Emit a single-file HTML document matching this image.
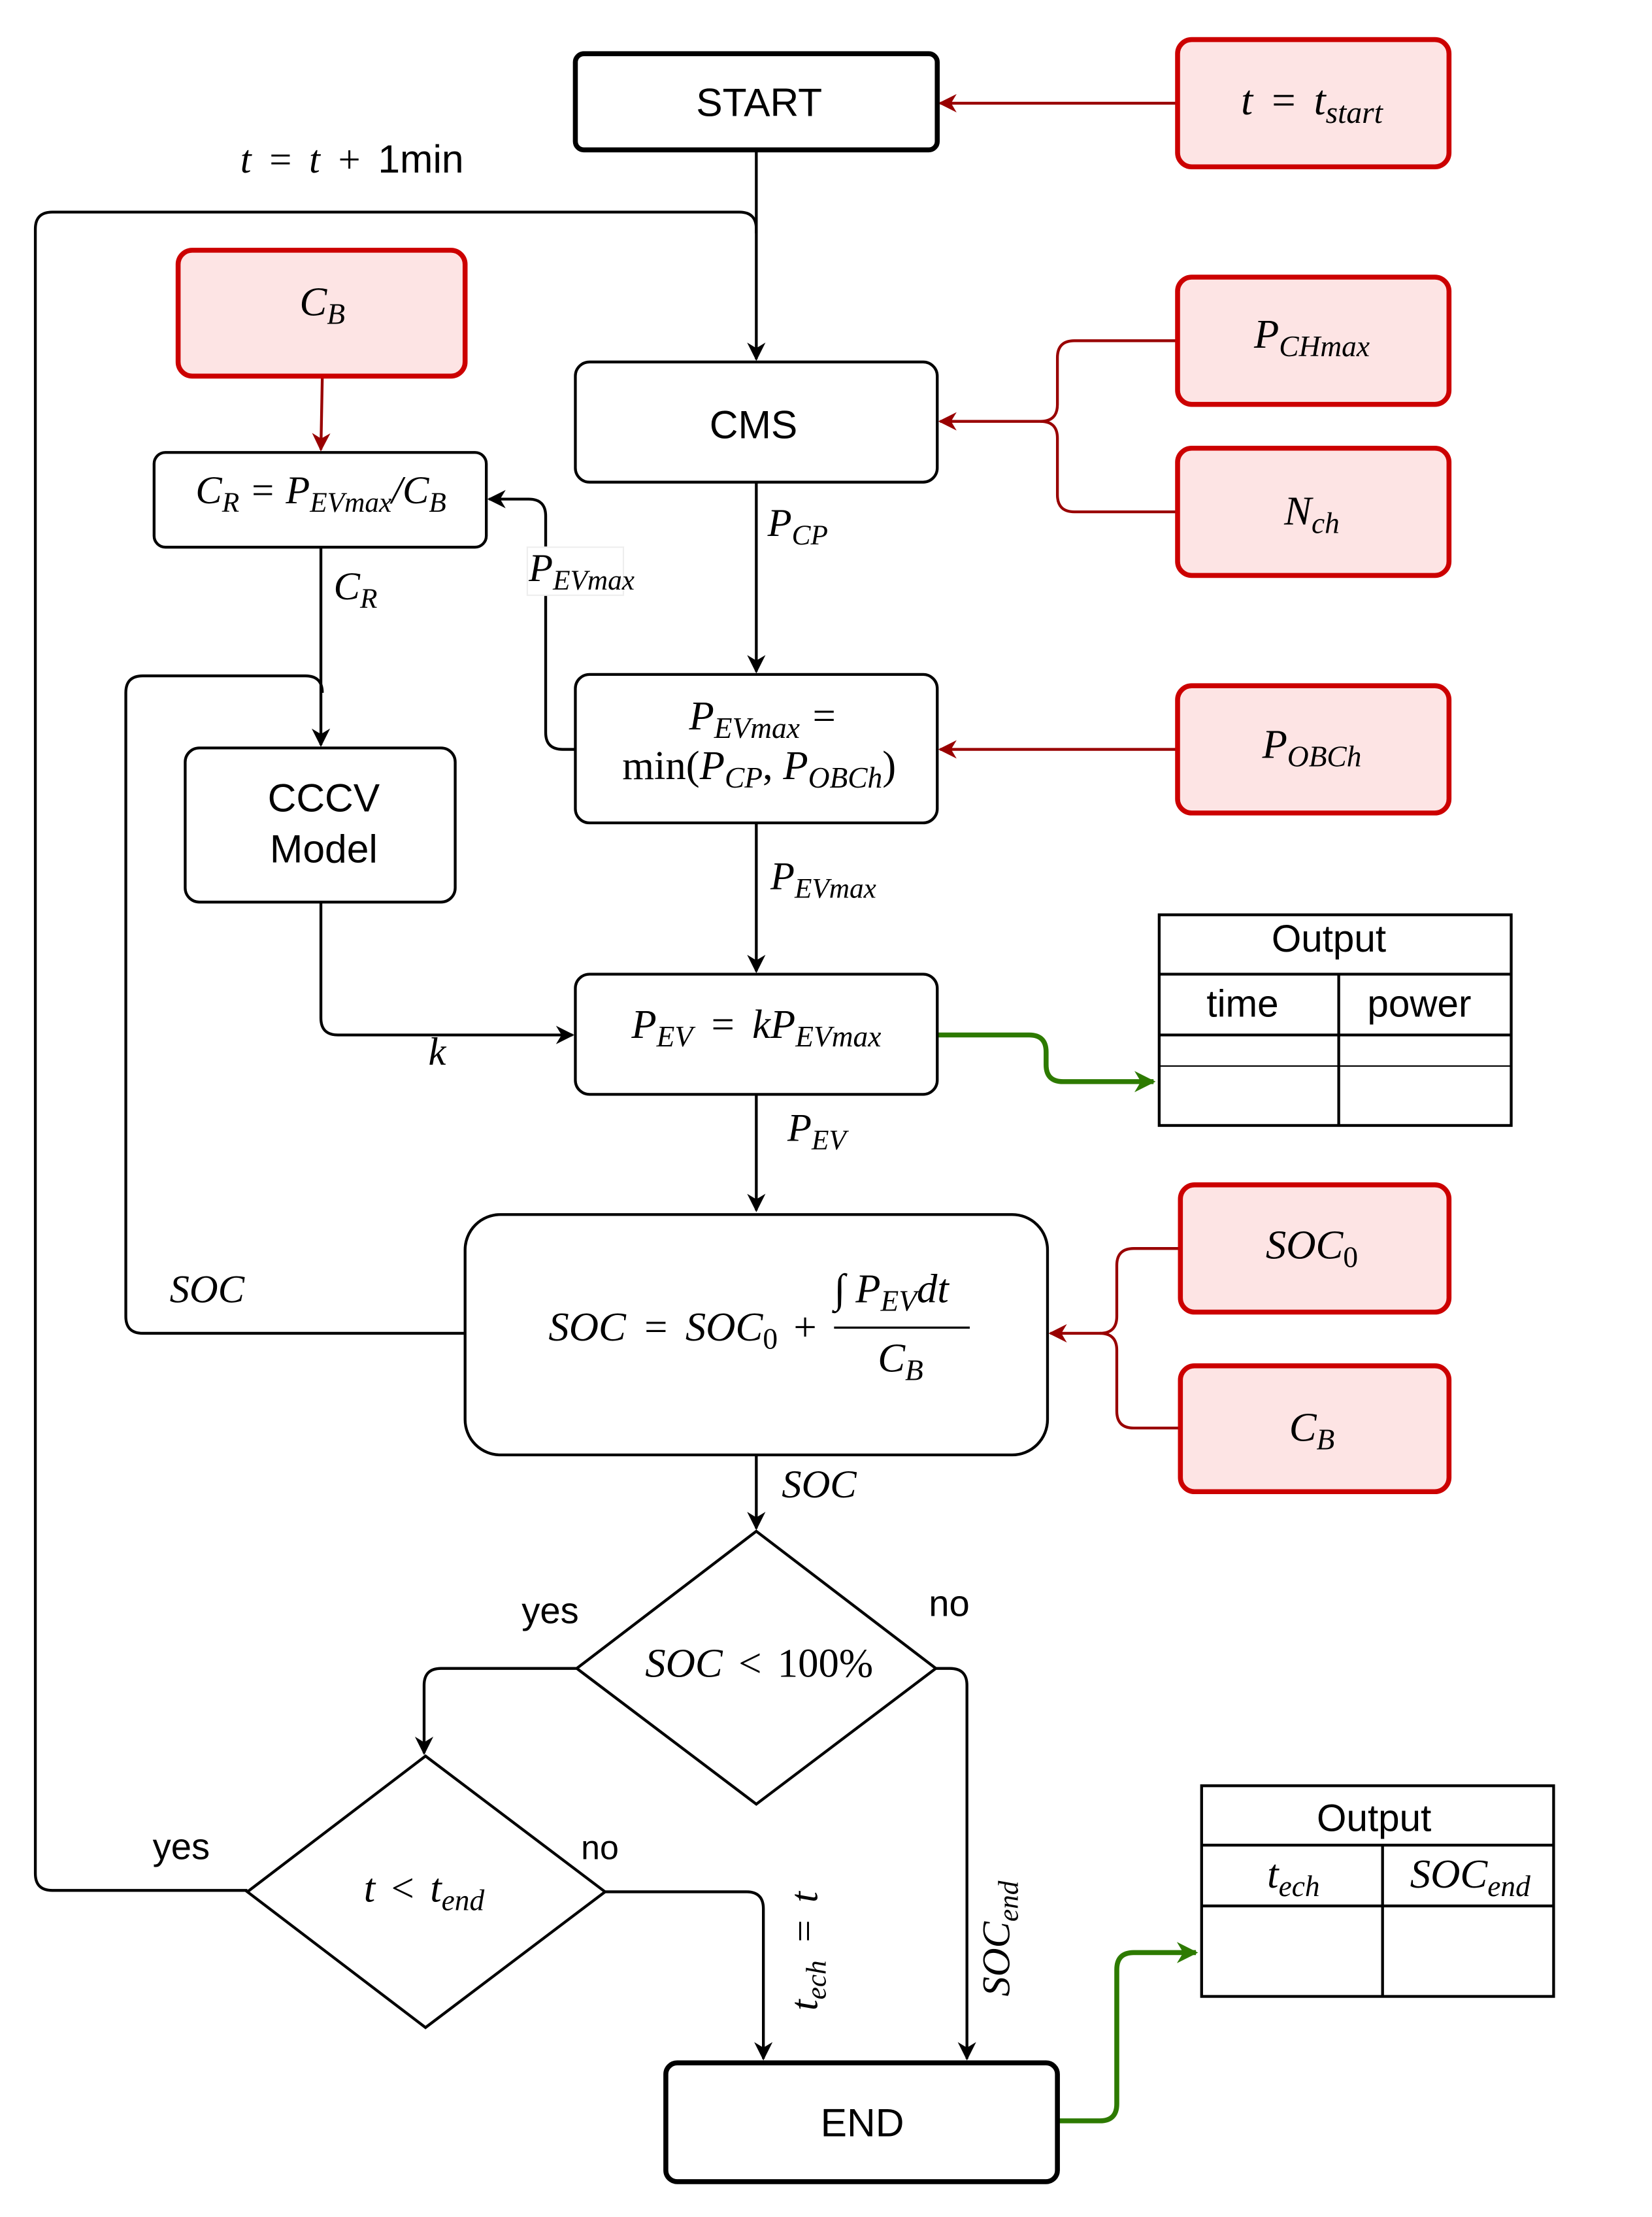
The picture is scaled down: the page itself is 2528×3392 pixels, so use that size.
<!DOCTYPE html>
<html><head><meta charset="utf-8"><style>
html,body{margin:0;padding:0;background:#fff;}
svg{display:block;}
text{font-family:"Liberation Sans",sans-serif;}
.m{font-family:"Liberation Serif",serif;font-style:italic;}
.r{font-family:"Liberation Serif",serif;font-style:normal;}
.w{word-spacing:4px;}
</style></head><body>
<svg width="2528" height="3392" viewBox="0 0 1168.6 1568" preserveAspectRatio="none" xmlns="http://www.w3.org/2000/svg">
<defs>
<marker id="ak" viewBox="0 0 10 10" refX="9" refY="5" markerWidth="13" markerHeight="13" orient="auto" markerUnits="userSpaceOnUse"><path d="M0,0 L10,5 L0,10 L3,5z" fill="#000"/></marker>
<marker id="ar" viewBox="0 0 10 10" refX="9" refY="5" markerWidth="13" markerHeight="13" orient="auto" markerUnits="userSpaceOnUse"><path d="M0,0 L10,5 L0,10 L3,5z" fill="#990000"/></marker>
<marker id="ag" viewBox="0 0 10 10" refX="9" refY="5" markerWidth="15" markerHeight="15" orient="auto" markerUnits="userSpaceOnUse"><path d="M0,0 L10,5 L0,10 L3,5z" fill="#2d7a00"/></marker>
</defs>
<style>
.k{stroke:#000;stroke-width:2;fill:none;}
.kr{stroke:#990000;stroke-width:2;fill:none;}
.g{stroke:#2d7a00;stroke-width:3.5;fill:none;}
.box{fill:#fff;stroke:#000;stroke-width:2;}
.rb{fill:#fde4e4;stroke:#cc0000;stroke-width:3.5;}
</style>

<path class="k" d="M535,106 V254" marker-end="url(#ak)"/>
<path class="k" d="M535,165 V162 Q535,150 523,150 H37 Q25,150 25,162 V1325 Q25,1337 37,1337 H175"/>
<path class="kr" d="M833,73 H665" marker-end="url(#ar)"/>
<path class="kr" d="M228,266 L227,318" marker-end="url(#ar)"/>
<path class="kr" d="M833,241 H760 Q748,241 748,253 V286 Q748,298 736,298 H665" marker-end="url(#ar)"/>
<path class="kr" d="M833,362 H760 Q748,362 748,350 V310 Q748,298 736,298"/>
<path class="k" d="M535,341 V475" marker-end="url(#ak)"/>
<path class="kr" d="M833,530 H665" marker-end="url(#ar)"/>
<path class="k" d="M407,530 H398 Q386,530 386,518 V365 Q386,353 374,353 H346" marker-end="url(#ak)"/>
<path class="k" d="M227,387 V527" marker-end="url(#ak)"/>
<path class="k" d="M329,943 H101 Q89,943 89,931 V490 Q89,478 101,478 H216 Q228,478 228,490"/>
<path class="k" d="M535,582 V687" marker-end="url(#ak)"/>
<path class="k" d="M227,638 V720 Q227,732 239,732 H405" marker-end="url(#ak)"/>
<path class="g" d="M663,732 H728 Q740,732 740,744 V753 Q740,765 752,765 H816" marker-end="url(#ag)"/>
<path class="k" d="M535,774 V856" marker-end="url(#ak)"/>
<path class="kr" d="M835,883 H802 Q790,883 790,895 V931 Q790,943 778,943 H743" marker-end="url(#ar)"/>
<path class="kr" d="M835,1010 H802 Q790,1010 790,998 V955 Q790,943 778,943"/>
<path class="k" d="M535,1029 V1081" marker-end="url(#ak)"/>
<path class="k" d="M408,1180 H312 Q300,1180 300,1192 V1240" marker-end="url(#ak)"/>
<path class="k" d="M428,1338 H528 Q540,1338 540,1350 V1456" marker-end="url(#ak)"/>
<path class="k" d="M662,1180 H672 Q684,1180 684,1192 V1456" marker-end="url(#ak)"/>
<path class="g" d="M748,1500 H778 Q790,1500 790,1488 V1393 Q790,1381 802,1381 H846" marker-end="url(#ag)"/>

<rect x="407" y="38" width="256" height="68" rx="6" fill="#fff" stroke="#000" stroke-width="3.5"/>
<text x="537" y="82" font-size="28" text-anchor="middle">START</text>
<rect class="rb" x="833" y="28" width="192" height="90" rx="10"/>
<text x="928" y="81" font-size="30" text-anchor="middle" class="m w">t = t<tspan font-size="22" dy="6">start</tspan></text>
<text x="170" y="122" font-size="28" class="m w">t = t + <tspan class="r" style="font-family:'Liberation Sans'">1min</tspan></text>

<rect class="rb" x="126" y="177" width="203" height="89" rx="10"/>
<text x="228" y="223" font-size="29" text-anchor="middle" class="m">C<tspan font-size="21" dy="6">B</tspan></text>
<rect class="box" x="109" y="320" width="235" height="67" rx="8"/>
<text x="227" y="356" font-size="28" text-anchor="middle" class="m">C<tspan font-size="20" dy="6">R</tspan><tspan dy="-6"> = P</tspan><tspan font-size="20" dy="6">EVmax</tspan><tspan dy="-6">/C</tspan><tspan font-size="20" dy="6">B</tspan></text>

<rect class="box" x="407" y="256" width="256" height="85" rx="10"/>
<text x="533" y="310" font-size="28" text-anchor="middle">CMS</text>
<rect class="rb" x="833" y="196" width="192" height="90" rx="10"/>
<text x="928" y="246" font-size="29" text-anchor="middle" class="m">P<tspan font-size="21" dy="6">CHmax</tspan></text>
<rect class="rb" x="833" y="317" width="192" height="90" rx="10"/>
<text x="928" y="371" font-size="29" text-anchor="middle" class="m">N<tspan font-size="21" dy="6">ch</tspan></text>
<text x="543" y="379" font-size="28" class="m">P<tspan font-size="20" dy="6">CP</tspan></text>
<rect x="373" y="387" width="68" height="34" fill="#fff" stroke="#eee" stroke-width="1"/>
<text x="374" y="411" font-size="28" class="m">P<tspan font-size="20" dy="6">EVmax</tspan></text>
<text x="236" y="424" font-size="28" class="m">C<tspan font-size="20" dy="6">R</tspan></text>

<rect class="box" x="407" y="477" width="256" height="105" rx="10"/>
<text x="540" y="516" font-size="29" text-anchor="middle" class="m">P<tspan font-size="21" dy="6">EVmax</tspan><tspan dy="-6"> =</tspan></text>
<text x="537" y="551" font-size="29" text-anchor="middle" class="r">min(<tspan class="m">P</tspan><tspan class="m" font-size="21" dy="6">CP</tspan><tspan dy="-6">, </tspan><tspan class="m">P</tspan><tspan class="m" font-size="21" dy="6">OBCh</tspan><tspan dy="-6">)</tspan></text>
<rect class="rb" x="833" y="485" width="192" height="90" rx="10"/>
<text x="928" y="536" font-size="29" text-anchor="middle" class="m">P<tspan font-size="21" dy="6">OBCh</tspan></text>

<rect class="box" x="131" y="529" width="191" height="109" rx="10"/>
<text x="229" y="574" font-size="28" text-anchor="middle">CCCV</text>
<text x="229" y="610" font-size="28" text-anchor="middle">Model</text>
<text x="545" y="629" font-size="28" class="m">P<tspan font-size="20" dy="6">EVmax</tspan></text>

<rect class="box" x="407" y="689" width="256" height="85" rx="10"/>
<text x="535" y="734" font-size="29" text-anchor="middle" class="m w">P<tspan font-size="21" dy="6">EV</tspan><tspan dy="-6"> = kP</tspan><tspan font-size="21" dy="6">EVmax</tspan></text>
<text x="303" y="753" font-size="28" class="m">k</text>
<text x="557" y="807" font-size="28" class="m">P<tspan font-size="20" dy="6">EV</tspan></text>

<rect x="820" y="647" width="249" height="149" fill="#fff" stroke="#000" stroke-width="2"/>
<line x1="820" y1="689" x2="1069" y2="689" stroke="#000" stroke-width="2"/>
<line x1="820" y1="732" x2="1069" y2="732" stroke="#000" stroke-width="2"/>
<line x1="820" y1="754" x2="1069" y2="754" stroke="#000" stroke-width="1"/>
<line x1="947" y1="689" x2="947" y2="796" stroke="#000" stroke-width="2"/>
<text x="940" y="673" font-size="27" text-anchor="middle">Output</text>
<text x="879" y="719" font-size="27" text-anchor="middle">time</text>
<text x="1004" y="719" font-size="27" text-anchor="middle">power</text>

<rect class="box" x="329" y="859" width="412" height="170" rx="25"/>
<text x="388" y="948" font-size="29" class="m w">SOC = SOC<tspan class="r" font-size="21" dy="6">0</tspan><tspan class="r" dy="-6"> +</tspan></text>
<text x="590" y="921" font-size="29" class="m">∫ P<tspan font-size="21" dy="6">EV</tspan><tspan dy="-6">dt</tspan></text>
<line x1="590" y1="939" x2="686" y2="939" stroke="#000" stroke-width="1.5"/>
<text x="637" y="970" font-size="29" text-anchor="middle" class="m">C<tspan font-size="21" dy="6">B</tspan></text>
<text x="120" y="921" font-size="28" class="m">SOC</text>
<rect class="rb" x="835" y="838" width="190" height="90" rx="10"/>
<text x="928" y="890" font-size="29" text-anchor="middle" class="m">SOC<tspan class="r" font-size="21" dy="6">0</tspan></text>
<rect class="rb" x="835" y="966" width="190" height="89" rx="10"/>
<text x="928" y="1019" font-size="29" text-anchor="middle" class="m">C<tspan font-size="21" dy="6">B</tspan></text>
<text x="553" y="1059" font-size="28" class="m">SOC</text>

<polygon points="535,1083 662,1180 535,1276 408,1180" fill="#fff" stroke="#000" stroke-width="2"/>
<text x="537" y="1186" font-size="29" text-anchor="middle" class="m w">SOC <tspan class="r">&lt; 100%</tspan></text>
<text x="369" y="1148" font-size="26">yes</text>
<text x="657" y="1143" font-size="26">no</text>

<polygon points="301,1242 428,1338 301,1434 175,1338" fill="#fff" stroke="#000" stroke-width="2"/>
<text x="300" y="1345" font-size="29" text-anchor="middle" class="m w">t <tspan class="r">&lt;</tspan> t<tspan font-size="21" dy="6">end</tspan></text>
<text x="108" y="1315" font-size="26">yes</text>
<text x="411" y="1315" font-size="24">no</text>

<text transform="translate(578,1422) rotate(-90)" font-size="28" class="m w">t<tspan font-size="20" dy="6">ech</tspan><tspan dy="-6"> = t</tspan></text>
<text transform="translate(714,1412) rotate(-90)" font-size="28" class="m">SOC<tspan font-size="20" dy="6">end</tspan></text>

<rect x="471" y="1459" width="277" height="84" rx="8" fill="#fff" stroke="#000" stroke-width="3.5"/>
<text x="610" y="1511" font-size="28" text-anchor="middle">END</text>

<rect x="850" y="1263" width="249" height="149" fill="#fff" stroke="#000" stroke-width="2"/>
<line x1="850" y1="1305" x2="1099" y2="1305" stroke="#000" stroke-width="2"/>
<line x1="850" y1="1348" x2="1099" y2="1348" stroke="#000" stroke-width="2"/>
<line x1="978" y1="1305" x2="978" y2="1412" stroke="#000" stroke-width="2"/>
<text x="972" y="1295" font-size="27" text-anchor="middle">Output</text>
<text x="915" y="1335" font-size="29" text-anchor="middle" class="m">t<tspan font-size="21" dy="6">ech</tspan></text>
<text x="1040" y="1335" font-size="29" text-anchor="middle" class="m">SOC<tspan font-size="21" dy="6">end</tspan></text>
</svg>
</body></html>
